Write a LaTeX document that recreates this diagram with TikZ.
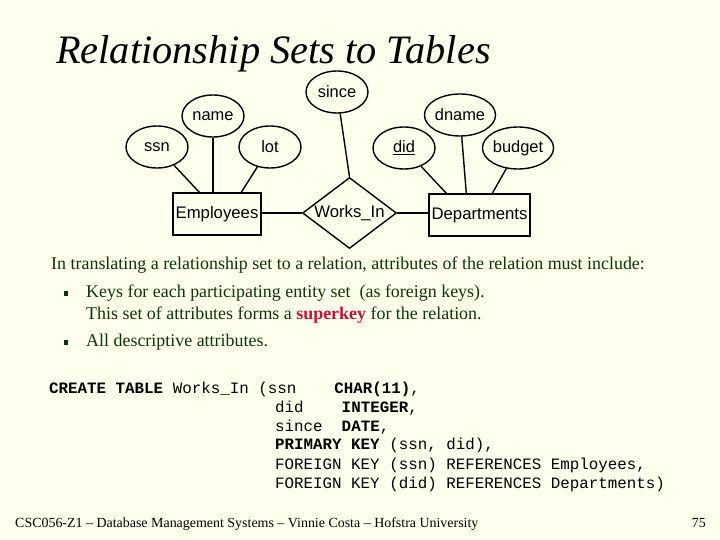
\documentclass[tikz,border=0pt]{standalone}
\usepackage{fontspec}
\setmainfont{Liberation Serif}
\setsansfont{Liberation Sans}
\setmonofont{Liberation Mono}
\usetikzlibrary{shapes.geometric,calc}
\definecolor{bg}{RGB}{255,255,238}
\definecolor{bodygreen}{RGB}{12,52,12}
\definecolor{superred}{RGB}{200,16,56}
\tikzset{
  attr/.style={draw,line width=1.4bp,ellipse,minimum width=62bp,minimum height=42bp,inner sep=0pt,font=\sffamily\fontsize{16.5}{16.5}\selectfont},
  entity/.style={draw,line width=1.4bp,rectangle,inner sep=0pt,font=\sffamily\fontsize{16.8}{16.8}\selectfont},
  rel/.style={draw,line width=1.4bp,diamond,aspect=1.32,minimum width=94bp,minimum height=71bp,inner sep=0pt,font=\sffamily\fontsize{16.8}{16.8}\selectfont},
  conn/.style={line width=1.4bp},
  body/.style={anchor=base west,inner sep=0pt,text=bodygreen,font=\fontsize{18}{20}\selectfont},
  code/.style={anchor=base west,inner sep=0pt,font=\ttfamily\fontsize{15.9}{18}\selectfont},
}
\begin{document}
\begin{tikzpicture}[x=1bp,y=-1bp]
\fill[bg] (0,0) rectangle (720,540);
\useasboundingbox (0,0) rectangle (720,540);

% title
\node[anchor=base west,inner sep=0pt,font=\itshape\fontsize{40.5}{40.5}\selectfont] (title) at (56,64) {Relationship Sets to Tables};

% ER diagram
\node[attr] (since) at (337,92) {since};
\node[attr] (name) at (213,116) {name};
\node[attr] (ssn) at (157,147) {ssn};
\node[attr] (lot) at (270,147) {lot};
\node[attr] (did) at (404,148) {\underline{did}};
\node[attr] (dname) at (460,115) {dname};
\node[attr] (budget) at (518,148) {budget};

\node[entity,minimum width=88bp,minimum height=42bp] (emp) at (217,214) {Employees};
\node[rel] (wi) at (349.5,213) {\raisebox{1.5bp}{Works\_In}};
\node[entity,minimum width=101bp,minimum height=42bp] (dep) at (479.5,215) {Departments};

\draw[conn] (emp.east |- wi) -- (wi.west);
\draw[conn] (wi.east) -- (dep.west |- wi);
\draw[conn] (since) -- (wi.north);
\draw[conn] (ssn) -- ($(emp.north west)+(27,0)$);
\draw[conn] (name.south) -- (name.south |- emp.north);
\draw[conn] (lot) -- ($(emp.north west)+(69,0)$);
\draw[conn] (did) -- ($(dep.north west)+(18,0)$);
\draw[conn] (dname) -- ($(dep.north west)+(38,0)$);
\draw[conn] (budget) -- ($(dep.north west)+(64,0)$);

% body text
\node[body] (l1) at (51,270) {In translating a relationship set to a relation, attributes of the relation must include:};
\node[body] (b1) at (63.5,297) {\fontsize{10}{10}\selectfont\raisebox{1bp}{\rule{4bp}{5bp}}};
\node[body] (l2) at (86,297) {Keys for each participating entity set\ \ (as foreign keys).};
\node[body] (l3) at (86,319) {This set of attributes forms a \textcolor{superred}{\textbf{superkey}} for the relation.};
\node[body] (b2) at (63.5,346) {\fontsize{10}{10}\selectfont\raisebox{1bp}{\rule{4bp}{5bp}}};
\node[body] (l4) at (86,346) {All descriptive attributes.};

% code
\node[code] (c1) at (49,393) {\textbf{CREATE~TABLE}~Works\_In~(ssn~~~~\textbf{CHAR(11)},};
\node[code] (c2) at (275,412) {did~~~~\textbf{INTEGER},};
\node[code] (c3) at (275,431) {since~~\textbf{DATE},};
\node[code] (c4) at (275,449) {\textbf{PRIMARY~KEY}~(ssn,~did),};
\node[code] (c5) at (275,469) {FOREIGN~KEY~(ssn)~REFERENCES~Employees,};
\node[code] (c6) at (275,488) {FOREIGN~KEY~(did)~REFERENCES~Departments)};

% footer
\node[anchor=base west,inner sep=0pt,font=\fontsize{14}{14}\selectfont] (foot) at (15,527.5) {CSC056-Z1 -- Database Management Systems -- Vinnie Costa -- Hofstra University};
\node[anchor=base east,inner sep=0pt,font=\fontsize{14}{14}\selectfont] (page) at (706,527.5) {75};
\end{tikzpicture}
\end{document}
